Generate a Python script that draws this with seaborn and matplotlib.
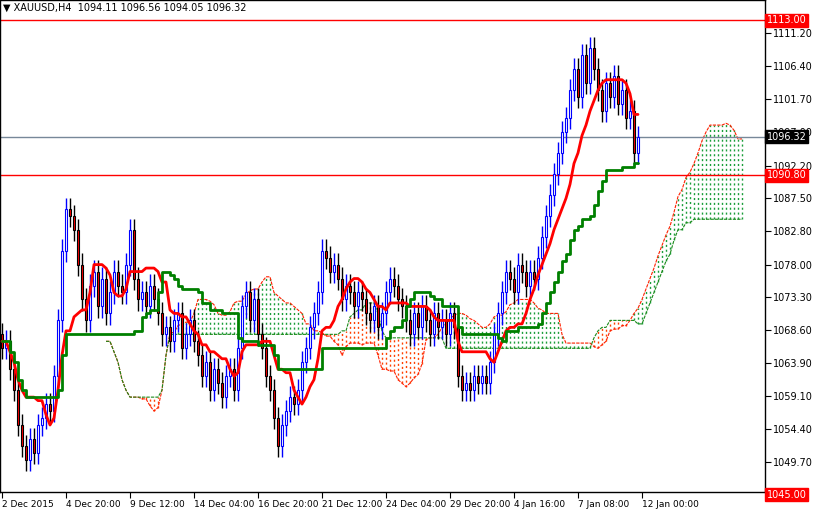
import numpy as np
import pandas as pd
import matplotlib
matplotlib.use("Agg")
import matplotlib.pyplot as plt
import seaborn as sns

# XAUUSD H4 closes (160 bars)
closes = [
    1066, 1067, 1063, 1060, 1055, 1052, 1050, 1053, 1051, 1055,
    1056, 1058, 1057, 1062, 1070, 1080, 1086, 1085, 1083, 1078,
    1073, 1070, 1075, 1077, 1072, 1076, 1071, 1074, 1077, 1075,
    1074, 1078, 1083, 1076, 1073, 1074, 1072, 1075, 1073, 1071,
    1068, 1069, 1067, 1070, 1071, 1066, 1068, 1070, 1067, 1065,
    1062, 1064, 1060, 1063, 1061, 1059, 1062, 1063, 1060, 1066,
    1072, 1074, 1070, 1073, 1068, 1066, 1062, 1060, 1056, 1052,
    1055, 1057, 1059, 1058, 1060, 1064, 1066, 1069, 1071, 1074,
    1080, 1079, 1077, 1078, 1076, 1073, 1075, 1074, 1072, 1074,
    1073, 1071, 1070, 1072, 1069, 1071, 1074, 1076, 1075, 1073,
    1072, 1070, 1068, 1071, 1069, 1072, 1070, 1068, 1071, 1069,
    1070, 1068, 1071, 1069, 1062, 1060, 1061, 1060, 1062, 1061,
    1062, 1061, 1064, 1068, 1071, 1074, 1077, 1076, 1074, 1078,
    1077, 1075, 1077, 1076, 1079, 1082, 1085, 1088, 1091, 1094,
    1097, 1099, 1103, 1106, 1102, 1108, 1104, 1109, 1106, 1103,
    1100, 1104, 1102, 1105, 1101, 1103, 1099, 1100, 1094.05, 1096.32,
]
first_open = 1068
wick = 1.6

date_labels = ["2 Dec 2015", "4 Dec 20:00", "9 Dec 12:00", "14 Dec 04:00",
               "16 Dec 20:00", "21 Dec 12:00", "24 Dec 04:00", "29 Dec 20:00",
               "4 Jan 16:00", "7 Jan 08:00", "12 Jan 00:00"]
price_ticks = [1111.20, 1106.40, 1101.70, 1097.00, 1092.20, 1087.50, 1082.80,
               1078.00, 1073.30, 1068.60, 1063.90, 1059.10, 1054.40, 1049.70]
levels_red = [1113.00, 1090.80]
last_price = 1096.32

c = np.array(closes, dtype=float)
o = np.concatenate([[first_open], c[:-1]])
h = np.maximum(o, c) + wick
l = np.minimum(o, c) - wick
n = len(c)
df = pd.DataFrame({"i": np.arange(n), "o": o, "h": h, "l": l, "c": c})

hs, ls = df["h"], df["l"]
df["tenkan"] = (hs.rolling(9, min_periods=1).max() + ls.rolling(9, min_periods=1).min()) / 2
df["kijun"] = (hs.rolling(26, min_periods=1).max() + ls.rolling(26, min_periods=1).min()) / 2
span_a = (df["tenkan"] + df["kijun"]) / 2
span_b = (hs.rolling(52, min_periods=1).max() + ls.rolling(52, min_periods=1).min()) / 2
cloud = pd.DataFrame({"i": np.arange(n) + 26, "a": span_a.values, "b": span_b.values}).dropna()

sns.set_style("white")
fig = plt.figure(figsize=(8.14, 5.16), dpi=100)
ax = fig.add_axes([0, 24 / 516, 765 / 814, 492 / 516])

# cloud: dotted vertical hatching
for _, r in cloud.iterrows():
    col = "#1a9e3a" if r["a"] >= r["b"] else "#ff4000"
    ax.vlines(r["i"], min(r["a"], r["b"]), max(r["a"], r["b"]), colors=col,
              linestyles=(0, (1.5, 2)), linewidth=1.0, zorder=1)
ax.plot(cloud["i"], cloud["a"], color="#ff2000", lw=0.8, ls=(0, (3, 1)), zorder=2)
ax.plot(cloud["i"], cloud["b"], color="#1a8a1a", lw=0.8, ls=(0, (3, 1)), zorder=2)

# candles
for _, r in df.iterrows():
    up = r["c"] >= r["o"]
    ax.vlines(r["i"], r["l"], r["h"], colors="blue" if up else "black", lw=1, zorder=3)
    ax.bar(r["i"], max(abs(r["c"] - r["o"]), 0.2), bottom=min(r["o"], r["c"]), width=0.55,
           color="white" if up else "red", edgecolor="blue" if up else "black",
           linewidth=0.8, zorder=4)

sns.lineplot(data=df, x="i", y="tenkan", color="#ff0000", lw=2, ax=ax, zorder=5)
sns.lineplot(data=df, x="i", y="kijun", color="#008000", lw=2, ax=ax, zorder=5,
             drawstyle="steps-post")

for lv in levels_red:
    ax.axhline(lv, color="red", lw=1, zorder=2)
ax.axhline(last_price, color="#778899", lw=1, zorder=2)

ax.set_xlim(-0.5, 190.75)
ax.set_ylim(1045.4, 1115.93)
ax.set_xlabel("")
ax.set_ylabel("")
ax.set_xticks(np.arange(len(date_labels)) * 16)
ax.set_xticklabels(date_labels, ha="left", fontsize=6.5)
ax.yaxis.tick_right()
ax.set_yticks(price_ticks)
ax.set_yticklabels([f"{p:.2f}" for p in price_ticks], fontsize=7)
ax.tick_params(axis="both", length=4, direction="out", pad=2, colors="black",
               left=False, right=True, bottom=True)
for s in ax.spines.values():
    s.set_color("black")
    s.set_linewidth(1)

yr = 1115.93 - 1045.4
for lv in levels_red + [1045.00]:
    ax.text(1.002, (lv - 1045.4) / yr, f"{lv:.2f}", transform=ax.transAxes,
            fontsize=7, color="white", va="center", ha="left", zorder=10, clip_on=False,
            bbox=dict(boxstyle="square,pad=0.15", fc="red", ec="red"))
ax.text(1.002, (last_price - 1045.4) / yr, f"{last_price:.2f}",
        transform=ax.transAxes, fontsize=7, color="white", va="center", ha="left",
        zorder=10, clip_on=False, bbox=dict(boxstyle="square,pad=0.15", fc="black", ec="black"))

ax.text(0.004, 0.995, "\u25bc XAUUSD,H4  1094.11 1096.56 1094.05 1096.32", transform=ax.transAxes,
        fontsize=7, va="top", ha="left", color="black")

fig.savefig("out.png", dpi=100, facecolor="white")
